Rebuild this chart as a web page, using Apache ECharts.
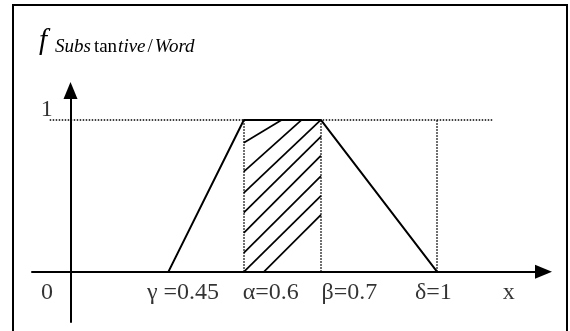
<!DOCTYPE html>
<html>
<head>
<meta charset="utf-8">
<script src="https://cdn.jsdelivr.net/npm/echarts@6/dist/echarts.min.js"></script>
<style>
html,body{margin:0;padding:0;background:#fff;}
#chart{width:570px;height:331px;}
</style>
</head>
<body>
<div id="chart"></div>
<script>
// Schematic x positions of the break points (picture is not to scale)
const pointNames = ['γ', 'α', 'β', 'δ'];
const pointValues = [0.45, 0.6, 0.7, 1];
const pointPos = [1.27, 2.25, 3.25, 4.76];
const membership = [0, 1, 1, 0];

// Axis tick labels and their (schematic) positions
const tickLabels = ['0', 'γ =0.45', 'α=0.6', 'β=0.7', 'δ=1', 'x'];
const tickLabelPos = [-0.305, 1.46, 2.60, 3.62, 4.71, 5.69];
const yTickLabels = ['1'];
const yTickLabelPos = [[-0.31, 1.066]];

// Dotted guide range for the y = 1 level
const levelOneRange = [-0.27, 5.49];

// Hatch segments between α and β
const hatchSegments = [
  [[2.51, 0], [3.25, 0.375]],
  [[2.25, 0], [3.25, 0.5]],
  [[2.25, 0.125], [3.25, 0.63]],
  [[2.25, 0.257], [3.25, 0.765]],
  [[2.25, 0.39], [3.25, 0.89]],
  [[2.25, 0.52], [3.25, 1.0]],
  [[2.25, 0.66], [3.0, 1.0]],
  [[2.25, 0.85], [2.74, 1.0]]
];

const serif = '"Liberation Serif", "DejaVu Serif", serif';

const chart = echarts.init(document.getElementById('chart'), null, {renderer: 'canvas'});

const trapData = pointPos.map((p, i) => [p, membership[i]]);
const guideLines = [
  [{coord: [levelOneRange[0], 1]}, {coord: [levelOneRange[1], 1]}],
  [{coord: [pointPos[1], 0]}, {coord: [pointPos[1], 1]}],
  [{coord: [pointPos[2], 0]}, {coord: [pointPos[2], 1]}],
  [{coord: [pointPos[3], 0]}, {coord: [pointPos[3], 1]}]
];

const axisCommon = {
  type: 'value',
  axisTick: {show: false},
  axisLabel: {show: false},
  splitLine: {show: false},
  axisLine: {
    show: true,
    onZero: true,
    symbol: ['none', 'triangle'],
    symbolSize: [14, 17],
    lineStyle: {color: '#000', width: 2}
  }
};

chart.setOption({
  animation: false,
  backgroundColor: '#fff',
  grid: {left: 32, right: 26.5, top: 90.5, bottom: 9, containLabel: false},
  xAxis: Object.assign({}, axisCommon, {min: -0.5, max: 6.14}),
  yAxis: Object.assign({}, axisCommon, {min: -0.33, max: 1.194}),
  graphic: [
    {
      type: 'rect',
      shape: {x: 13, y: 5, width: 554, height: 340},
      style: {fill: 'none', stroke: '#000', lineWidth: 2},
      silent: true
    },
    {
      type: 'text',
      x: 39, y: 41,
      style: {
        text: 'f',
        font: 'italic 29px ' + serif,
        fill: '#000',
        align: 'left',
        verticalAlign: 'middle'
      }
    },
    {
      type: 'text',
      x: 55, y: 47,
      style: {
        text: '{i|Subs}{u|tan}{i|tive}{s|/}{i|Word}',
        fill: '#000',
        align: 'left',
        verticalAlign: 'middle',
        rich: {
          i: {fontStyle: 'italic', fontSize: 19, fontFamily: serif, color: '#000'},
          u: {fontStyle: 'normal', fontSize: 19, fontFamily: serif, color: '#000', padding: [0, 1, 0, 3]},
          s: {fontStyle: 'normal', fontSize: 19, fontFamily: serif, color: '#000', padding: [0, 2, 0, 2]}
        }
      }
    }
  ],
  series: [
    {
      type: 'line',
      name: 'guides',
      data: [],
      silent: true,
      markLine: {
        silent: true,
        symbol: ['none', 'none'],
        label: {show: false},
        lineStyle: {color: '#000', width: 1.5, type: [1.5, 1.5]},
        data: guideLines
      }
    },
    {
      type: 'lines',
      coordinateSystem: 'cartesian2d',
      silent: true,
      lineStyle: {color: '#000', width: 1.7, opacity: 1},
      data: hatchSegments.map(s => ({coords: s}))
    },
    {
      type: 'line',
      name: 'membership',
      data: trapData,
      symbol: 'none',
      silent: true,
      lineStyle: {color: '#000', width: 2}
    },
    {
      type: 'scatter',
      silent: true,
      symbolSize: 1,
      itemStyle: {color: 'rgba(0,0,0,0)'},
      data: tickLabels.map((t, i) => ({name: t, value: [tickLabelPos[i], -0.14]}))
        .concat(yTickLabels.map((t, i) => ({name: t, value: yTickLabelPos[i]}))),
      label: {
        show: true,
        position: 'inside',
        formatter: p => p.name,
        fontSize: 24,
        fontFamily: serif,
        color: '#000'
      }
    }
  ]
});
</script>
</body>
</html>
